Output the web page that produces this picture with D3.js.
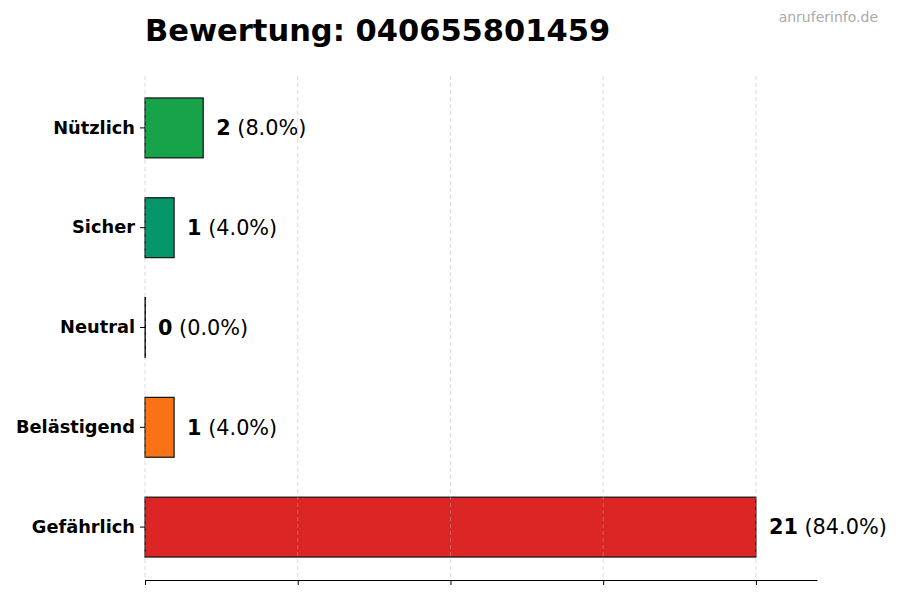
<!DOCTYPE html>
<html>
<head>
<meta charset="utf-8">
<script src="https://cdn.jsdelivr.net/npm/d3@7"></script>
<style>
  body { margin: 0; background: #fff; }
  svg { font-family: "DejaVu Sans", sans-serif; }
</style>
</head>
<body>
<div id="chart"></div>
<script>
  const categories = ["Nützlich", "Sicher", "Neutral", "Belästigend", "Gefährlich"];
  const counts = [2, 1, 0, 1, 21];
  const colors = ["#16a34a", "#059669", "#6b7280", "#f97316", "#dc2626"];
  const title = "Bewertung: 040655801459";
  const watermark = "anruferinfo.de";

  const width = 900, height = 600;
  const margin = { top: 76, right: 83, bottom: 20, left: 145 };
  const total = d3.sum(counts);
  const maxVal = d3.max(counts);

  const svg = d3.select("#chart").append("svg")
      .attr("width", width)
      .attr("height", height);

  const x = d3.scaleLinear()
      .domain([0, maxVal * 1.1])
      .range([margin.left, width - margin.right]);

  const y = d3.scaleBand()
      .domain(categories)
      .range([margin.top + 2, height - margin.bottom - 3])
      .paddingInner(0.4)
      .paddingOuter(0.2);

  const tickVals = d3.range(0, 5).map(i => maxVal * i / 4);

  // bars (zero-count bars keep a hairline so the edge still shows)
  svg.append("g")
    .selectAll("rect")
    .data(categories)
    .join("rect")
      .attr("x", x(0))
      .attr("y", d => y(d))
      .attr("width", (d, i) => Math.max(x(counts[i]) - x(0), 0.4))
      .attr("height", y.bandwidth())
      .attr("fill", (d, i) => colors[i])
      .attr("stroke", "#111")
      .attr("stroke-width", 1.2);

  // grid on top, light dashed
  svg.append("g")
    .selectAll("line")
    .data(tickVals)
    .join("line")
      .attr("x1", d => x(d)).attr("x2", d => x(d))
      .attr("y1", margin.top).attr("y2", height - margin.bottom)
      .attr("stroke", "#b0b0b0")
      .attr("stroke-opacity", 0.6)
      .attr("stroke-dasharray", "4,3")
      .attr("stroke-width", 0.8);

  // x axis (no labels)
  svg.append("g")
      .attr("transform", `translate(0,${height - margin.bottom})`)
      .call(d3.axisBottom(x).tickValues(tickVals).tickFormat("").tickSize(5).tickSizeOuter(0))
      .call(g => g.selectAll("path, line").attr("stroke", "#000"));

  // y axis
  svg.append("g")
      .attr("transform", `translate(${margin.left},0)`)
      .call(d3.axisLeft(y).tickSize(5).tickPadding(5))
      .call(g => g.select(".domain").remove())
      .call(g => g.selectAll("line").attr("stroke", "#000"))
      .call(g => g.selectAll("text")
          .attr("font-family", "DejaVu Sans")
          .attr("font-size", 17.8)
          .attr("font-weight", "bold")
          .attr("fill", "#000"));

  // value labels
  const lbl = svg.append("g")
    .selectAll("text")
    .data(categories)
    .join("text")
      .attr("x", (d, i) => x(counts[i]) + 13)
      .attr("y", d => y(d) + y.bandwidth() / 2)
      .attr("dy", "0.35em")
      .attr("font-size", 20.8)
      .attr("fill", "#000");
  lbl.append("tspan")
      .attr("font-weight", "bold")
      .text((d, i) => counts[i]);
  lbl.append("tspan")
      .text((d, i) => " (" + (counts[i] / total * 100).toFixed(1) + "%)");

  svg.append("text")
      .attr("x", margin.left)
      .attr("y", 41)
      .attr("font-size", 30.5)
      .attr("font-weight", "bold")
      .attr("fill", "#000")
      .text(title);

  svg.append("text")
      .attr("x", 878)
      .attr("y", 22)
      .attr("text-anchor", "end")
      .attr("font-size", 14)
      .attr("fill", "#aaa")
      .text(watermark);
</script>
</body>
</html>
